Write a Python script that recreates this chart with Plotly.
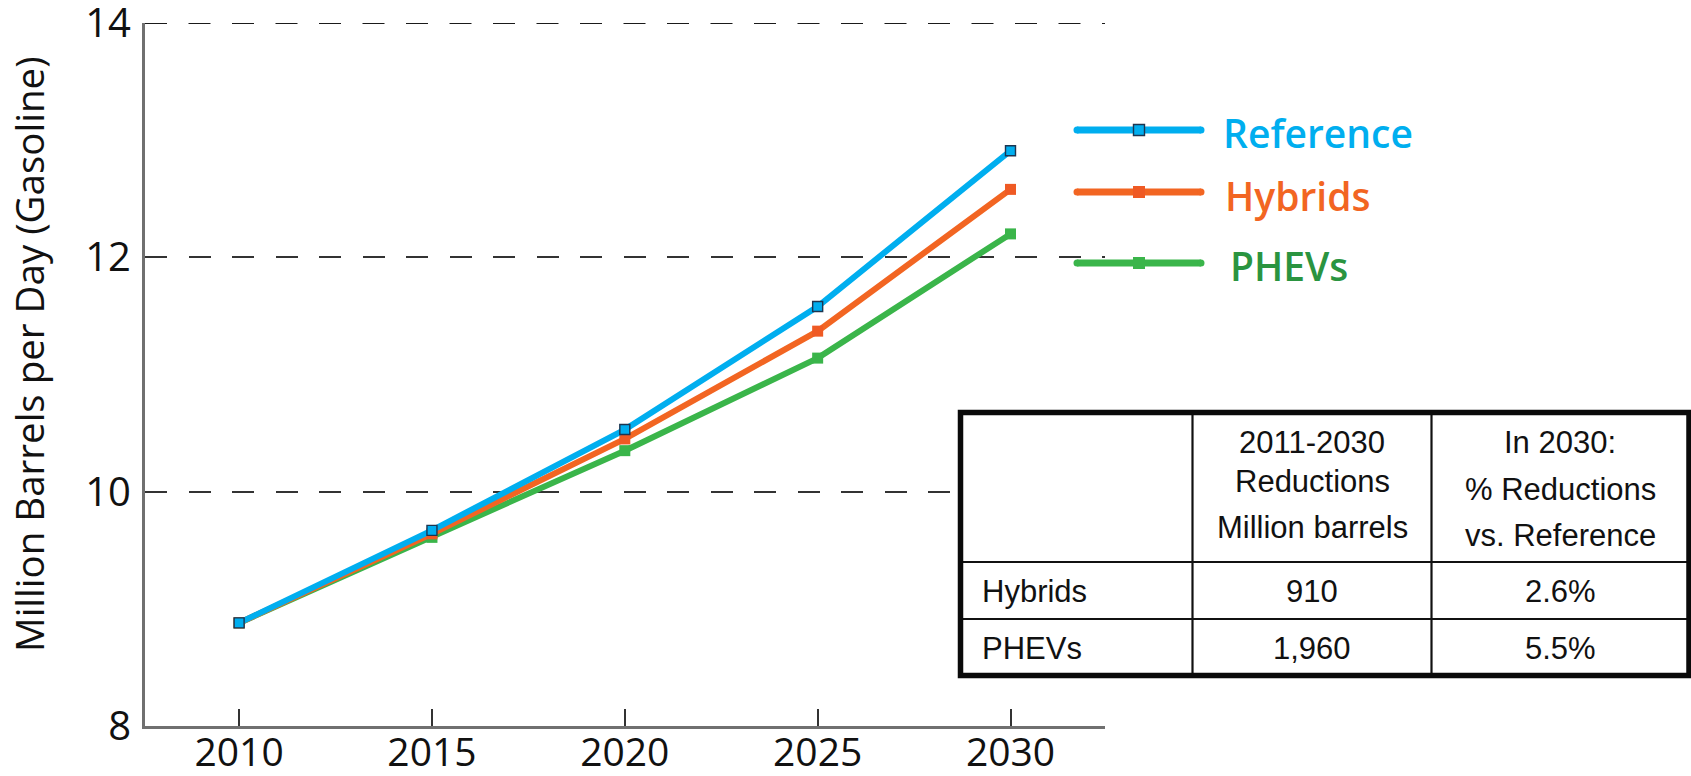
import plotly.graph_objects as go

# ---- data -------------------------------------------------------------
years = [2010, 2015, 2020, 2025, 2030]
reference = [8.88, 9.67, 10.53, 11.58, 12.91]
hybrids = [8.88, 9.64, 10.45, 11.37, 12.58]
phevs = [8.88, 9.61, 10.35, 11.14, 12.20]

series_names = ["Reference", "Hybrids", "PHEVs"]
y_ticks = [8, 10, 12, 14]

table_col2_header = ["2011-2030", "Reductions", "Million barrels"]
table_col3_header = ["In 2030:", "% Reductions", "vs. Reference"]
table_rows = ["Hybrids", "PHEVs"]
table_reductions = ["910", "1,960"]
table_pct = ["2.6%", "5.5%"]

# ---- styling ----------------------------------------------------------
BLUE = "#00AEEF"
ORANGE = "#F26522"
GREEN = "#3AB54A"
LEGEND_TEXT = {"Reference": "#00AEEF", "Hybrids": "#F26522", "PHEVs": "#2A9440"}
LINE_COLOR = {"Reference": BLUE, "Hybrids": ORANGE, "PHEVs": GREEN}
GRID_DASH = "22px,21.5px"

W, H = 1691, 776
L, T, PW, PH = 145, 23, 960, 703


def px(x):
    return (x - L) / PW


def py(y):
    return (T + PH - y) / PH


fig = go.Figure()

# draw bottom series first so the reference line sits on top
fig.add_trace(go.Scatter(
    x=years, y=phevs, name="PHEVs", mode="lines+markers",
    line=dict(color=GREEN, width=6),
    marker=dict(symbol="square", size=11, color=GREEN),
))
fig.add_trace(go.Scatter(
    x=years, y=hybrids, name="Hybrids", mode="lines+markers",
    line=dict(color=ORANGE, width=6),
    marker=dict(symbol="square", size=11, color="#EF5A24"),
))
fig.add_trace(go.Scatter(
    x=years, y=reference, name="Reference", mode="lines+markers",
    line=dict(color=BLUE, width=6),
    marker=dict(symbol="square", size=10, color=BLUE,
                line=dict(color="#1d3550", width=1.4)),
))

shapes = []
annotations = []

# gridline along the top edge of the value axis
shapes.append(dict(type="line", xref="paper", yref="y", layer="below",
                   x0=0, x1=1, y0=y_ticks[-1], y1=y_ticks[-1],
                   line=dict(color="#1a1a1a", width=2, dash=GRID_DASH)))

# ---- custom legend ----------------------------------------------------
legend_rows = {"Reference": 130, "Hybrids": 192, "PHEVs": 263}
legend_text_y = {"Reference": 132, "Hybrids": 196, "PHEVs": 265}
legend_text_x = {"Reference": 1221, "Hybrids": 1223, "PHEVs": 1228}
for name in series_names:
    c = LINE_COLOR[name]
    ly = legend_rows[name]
    shapes.append(dict(type="line", xref="paper", yref="paper",
                       x0=px(1077), x1=px(1201), y0=py(ly), y1=py(ly),
                       line=dict(color=c, width=7)))
    for ex in (1077, 1201):
        shapes.append(dict(type="circle", xref="paper", yref="paper",
                           xsizemode="pixel", ysizemode="pixel",
                           xanchor=px(ex), yanchor=py(ly),
                           x0=-3.5, x1=3.5, y0=-3.5, y1=3.5,
                           fillcolor=c, line=dict(width=0)))
    if name == "Reference":
        shapes.append(dict(type="rect", xref="paper", yref="paper",
                           xsizemode="pixel", ysizemode="pixel",
                           xanchor=px(1139), yanchor=py(ly),
                           x0=-5.5, x1=5.5, y0=-5.5, y1=5.5,
                           fillcolor=BLUE, line=dict(color="#1d3550", width=1.4)))
    else:
        mc = "#EF5A24" if name == "Hybrids" else GREEN
        shapes.append(dict(type="rect", xref="paper", yref="paper",
                           xsizemode="pixel", ysizemode="pixel",
                           xanchor=px(1139), yanchor=py(ly),
                           x0=-6, x1=6, y0=-6, y1=6,
                           fillcolor=mc, line=dict(width=0)))
    annotations.append(dict(
        text=name, xref="paper", yref="paper",
        x=px(legend_text_x[name]), y=py(legend_text_y[name]),
        xanchor="left", yanchor="middle", showarrow=False,
        font=dict(family="Open Sans", size=39, color=LEGEND_TEXT[name], weight=600),
    ))

# ---- summary table ----------------------------------------------------
tx0, tx1, ty0, ty1 = 960.5, 1689, 412.5, 675.5
col1, col2 = 1192.5, 1431.5
row1, row2 = 562, 619
shapes.append(dict(type="rect", xref="paper", yref="paper", layer="above",
                   x0=px(tx0), x1=px(tx1), y0=py(ty0), y1=py(ty1),
                   fillcolor="white", line=dict(width=0)))
for xv in (col1, col2):
    shapes.append(dict(type="line", xref="paper", yref="paper", layer="above",
                       x0=px(xv), x1=px(xv), y0=py(ty0), y1=py(ty1),
                       line=dict(color="#111", width=2.2)))
for yv in (row1, row2):
    shapes.append(dict(type="line", xref="paper", yref="paper", layer="above",
                       x0=px(tx0), x1=px(tx1), y0=py(yv), y1=py(yv),
                       line=dict(color="#111", width=2.2)))
shapes.append(dict(type="rect", xref="paper", yref="paper", layer="above",
                   x0=px(tx0), x1=px(tx1), y0=py(ty0), y1=py(ty1),
                   line=dict(color="#0a0a0a", width=5.5)))

TFONT = dict(family="Liberation Sans, Arial", size=31, color="#111")
c2x = (col1 + col2) / 2
c3x = (col2 + tx1) / 2
for text, yy in zip(table_col2_header, [442.5, 481.7, 527]):
    annotations.append(dict(text=text, xref="paper", yref="paper",
                            x=px(c2x), y=py(yy), xanchor="center", yanchor="middle",
                            showarrow=False, font=TFONT))
for text, yy in zip(table_col3_header, [442, 489, 535]):
    annotations.append(dict(text=text, xref="paper", yref="paper",
                            x=px(c3x), y=py(yy), xanchor="center", yanchor="middle",
                            showarrow=False, font=TFONT))
for label, red, pct, yy in zip(table_rows, table_reductions, table_pct, [591.5, 648.5]):
    annotations.append(dict(text=label, xref="paper", yref="paper",
                            x=px(980), y=py(yy), xanchor="left", yanchor="middle",
                            showarrow=False, font=TFONT))
    annotations.append(dict(text=red, xref="paper", yref="paper",
                            x=px(c2x), y=py(yy), xanchor="center", yanchor="middle",
                            showarrow=False, font=TFONT))
    annotations.append(dict(text=pct, xref="paper", yref="paper",
                            x=px(c3x), y=py(yy), xanchor="center", yanchor="middle",
                            showarrow=False, font=TFONT))

# ---- y axis title -----------------------------------------------------
annotations.append(dict(
    text="Million Barrels per Day (Gasoline)", xref="paper", yref="paper",
    x=px(29), y=py(354), xanchor="center", yanchor="middle", textangle=-90,
    showarrow=False, font=dict(family="Open Sans", size=38.5, color="#111"),
))

fig.update_layout(
    width=W, height=H,
    margin=dict(l=L, r=W - L - PW, t=T, b=H - T - PH, autoexpand=False),
    paper_bgcolor="white", plot_bgcolor="white",
    showlegend=False,
    shapes=shapes, annotations=annotations,
    xaxis=dict(
        range=[2007.56, 2032.45], tickvals=years, ticktext=[str(y) for y in years],
        showgrid=False, zeroline=False, automargin=False,
        showline=True, linecolor="#707070", linewidth=3,
        ticks="inside", ticklen=17, tickwidth=1.6, tickcolor="#333",
        tickfont=dict(family="Open Sans", size=39, color="#111"),
        ticklabelstandoff=-10, ticklabeloverflow="allow",
        fixedrange=True,
    ),
    yaxis=dict(
        range=[8, 14], tickvals=y_ticks,
        showgrid=True, gridcolor="#333", gridwidth=1.5, griddash=GRID_DASH,
        zeroline=False, automargin=False,
        showline=True, linecolor="#707070", linewidth=3,
        ticks="inside", ticklen=12, tickwidth=1.5, tickcolor="#333",
        tickfont=dict(family="Open Sans", size=40, color="#111"),
        ticklabelstandoff=3, ticklabeloverflow="allow",
        fixedrange=True,
    ),
)

fig.write_html("out.html")
